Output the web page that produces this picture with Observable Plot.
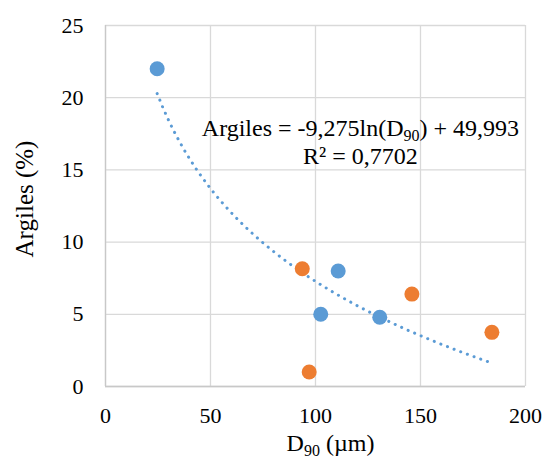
<!DOCTYPE html>
<html><head><meta charset="utf-8">
<script src="https://cdn.jsdelivr.net/npm/d3@7"></script>
<script src="https://cdn.jsdelivr.net/npm/@observablehq/plot@0.6"></script>
<style>body{margin:0;background:#fff} svg text{font-family:"Liberation Serif","Times New Roman",serif !important;}</style>
</head><body><div id="chart"></div>
<script>
// Data
const blueX = [24.6, 102.5, 110.8, 130.6];
const blueY = [22.0, 5.0, 8.0, 4.8];
const orangeX = [93.7, 97.0, 145.9, 184.0];
const orangeY = [8.15, 1.0, 6.4, 3.75];
// Logarithmic trendline shown on chart: y = a*ln(x) + b
const trendCoef = [-9.275, 49.993];
const trendRange = [24.6, 183.5];
const xTicks = [0, 50, 100, 150, 200];
const yTicks = [0, 5, 10, 15, 20, 25];
const eqLines = ["Argiles = -9,275ln(D90) + 49,993", "R² = 0,7702"];
const xLabel = "D90 (µm)";
const yLabel = "Argiles (%)";

const blue = blueX.map((x, i) => ({x, y: blueY[i]}));
const orange = orangeX.map((x, i) => ({x, y: orangeY[i]}));
const n = 60;
const trend = d3.range(n + 1).map(i => {
  const x = trendRange[0] + (trendRange[1] - trendRange[0]) * i / n;
  return {x, y: trendCoef[0] * Math.log(x) + trendCoef[1]};
});
const eq = [{x: 121.4, y: 17.9, t: eqLines[0]}, {x: 121.4, y: 15.96, t: eqLines[1]}];

const font = "Liberation Serif";
const chart = Plot.plot({
  width: 545, height: 459,
  marginLeft: 105, marginRight: 20, marginTop: 25, marginBottom: 73,
  x: {domain: [0, 200]},
  y: {domain: [0, 25]},
  style: {fontFamily: font, fontSize: "22px", background: "#fff", color: "#000"},
  marks: [
    Plot.gridX(xTicks, {stroke: "#d9d9d9", strokeOpacity: 1, strokeWidth: 1.3}),
    Plot.gridY(yTicks, {stroke: "#d9d9d9", strokeOpacity: 1, strokeWidth: 1.3}),
    Plot.ruleX([0], {stroke: "#c8c8c8", strokeWidth: 1.3}),
    Plot.ruleY([0], {stroke: "#c8c8c8", strokeWidth: 1.3}),
    Plot.axisX(xTicks, {tickSize: 0, tickPadding: 21, label: null, fontSize: 22, fontFamily: font}),
    Plot.axisY(yTicks, {tickSize: 0, tickPadding: 22, label: null, fontSize: 22, fontFamily: font}),
    Plot.line(trend, {x: "x", y: "y", stroke: "#5B9BD5", strokeWidth: 3, strokeDasharray: "0.1,7", strokeLinecap: "round"}),
    Plot.dot(blue, {x: "x", y: "y", r: 7.5, fill: "#5B9BD5", stroke: "none"}),
    Plot.dot(orange, {x: "x", y: "y", r: 7.5, fill: "#ED7D31", stroke: "none"}),
    Plot.text(eq, {x: "x", y: "y", text: "t", fontSize: 24, fontFamily: font, fill: "#000", lineAnchor: "middle", textAnchor: "middle"}),
    Plot.text([xLabel], {frameAnchor: "bottom", dx: 15, dy: 57, fontSize: 24, fontFamily: font, fill: "#000", lineAnchor: "middle", textAnchor: "middle"}),
    Plot.text([yLabel], {frameAnchor: "left", dx: -81, dy: -7, rotate: -90, fontSize: 25, fontFamily: font, fill: "#000", lineAnchor: "middle", textAnchor: "middle"})
  ]
});
document.getElementById("chart").appendChild(chart);

// Render "D90" with a subscript
d3.select(chart).selectAll("text").each(function() {
  const el = d3.select(this);
  if (el.selectAll("tspan").size() > 0) return;
  const s = el.text();
  const k = s.indexOf("D90");
  if (k < 0) return;
  el.text(null);
  el.append("tspan").text(s.slice(0, k + 1));
  el.append("tspan").attr("dy", "5").attr("font-size", "16").text("90");
  el.append("tspan").attr("dy", "-5").text(s.slice(k + 3));
});
</script>
</body></html>
